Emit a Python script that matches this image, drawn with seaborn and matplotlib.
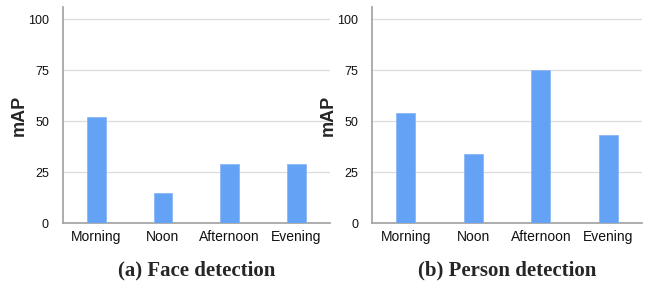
import pandas as pd
import seaborn as sns
import matplotlib.pyplot as plt

times = ['Morning', 'Noon', 'Afternoon', 'Evening']
face_map = [52, 15, 29, 29]
person_map = [54, 34, 75, 43]
y_ticks = [0, 25, 50, 75, 100]
captions = ['(a) Face detection', '(b) Person detection']

bar_color = '#64a2f6'

sns.set_style('white')
plt.rcParams['font.family'] = ['Liberation Sans', 'DejaVu Sans']

fig = plt.figure(figsize=(6.48, 2.86), dpi=100)
ax1 = fig.add_axes([0.097, 0.220, 0.412, 0.755])
ax2 = fig.add_axes([0.574, 0.220, 0.417, 0.755])

for ax, vals, cap in zip([ax1, ax2], [face_map, person_map], captions):
    df = pd.DataFrame({'time': times, 'mAP': vals})
    sns.barplot(data=df, x='time', y='mAP', color=bar_color, width=0.28,
                saturation=1, edgecolor='#8ab8f5', linewidth=0.6, ax=ax, zorder=3)
    ax.set_ylim(0, 106)
    ax.set_yticks(y_ticks)
    ax.yaxis.grid(True, color='#dcdcdc', linewidth=0.9, zorder=0)
    ax.set_axisbelow(True)
    for s in ['top', 'right']:
        ax.spines[s].set_visible(False)
    for s in ['left', 'bottom']:
        ax.spines[s].set_color('#a0a0a0')
        ax.spines[s].set_linewidth(1.2)
    ax.tick_params(axis='y', length=0, pad=10, labelsize=9, labelcolor='#111111')
    ax.tick_params(axis='x', length=0, pad=5, labelsize=10, labelcolor='#111111')
    ax.set_xlabel('')
    ax.set_ylabel('mAP', fontsize=13, fontweight='bold')
    ax.yaxis.set_label_coords(-0.13, 0.5)
    ax.text(0.5, -0.218, cap, transform=ax.transAxes, ha='center', va='center',
            fontsize=15, fontweight='bold', family=['Liberation Serif', 'DejaVu Serif'])

fig.savefig('out.png', dpi=100)
